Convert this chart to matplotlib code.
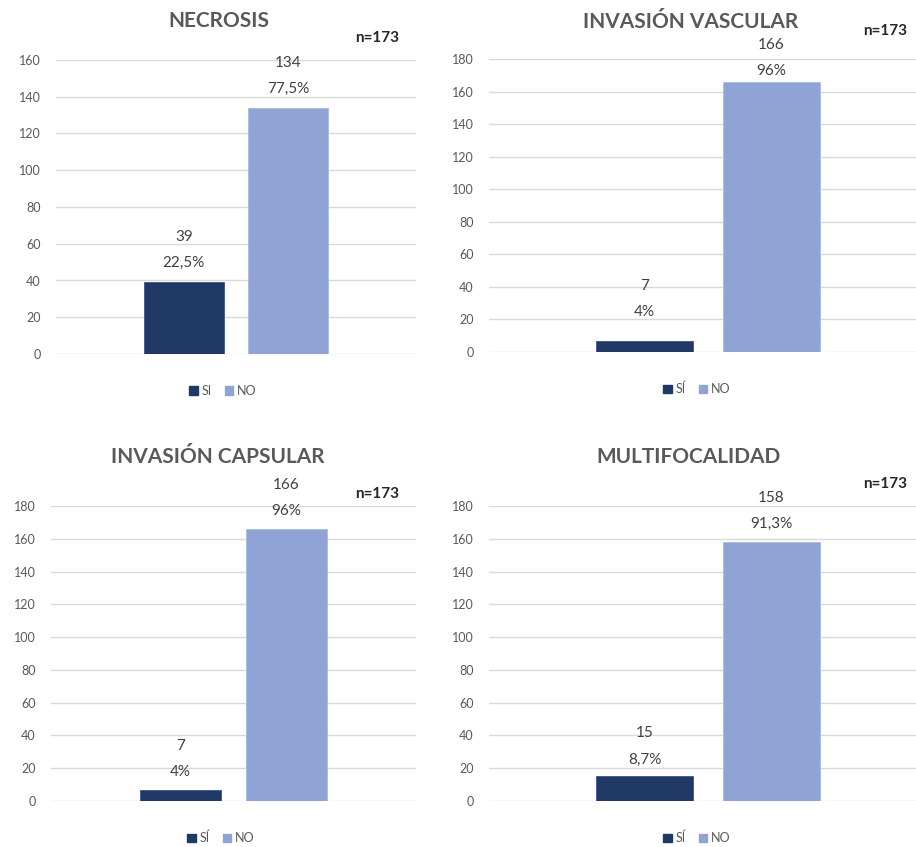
import matplotlib.pyplot as plt
from matplotlib.patches import Patch

plt.rcParams['font.family'] = ['Lato', 'DejaVu Sans']

# counts and percentages per variable
titles = ["NECROSIS", "INVASIÓN VASCULAR", "INVASIÓN CAPSULAR", "MULTIFOCALIDAD"]
si_counts = [39, 7, 7, 15]
no_counts = [134, 166, 166, 158]
si_pct = ["22,5%", "4%", "4%", "8,7%"]
no_pct = ["77,5%", "96%", "96%", "91,3%"]
y_max = [160, 180, 180, 180]
si_names = ["SI", "SÍ", "SÍ", "SÍ"]
n_total = 173

# layout, in pixels of a 916x847 canvas
W, H = 916, 847
ax_box = [(56, 416, 60, 354), (489, 927, 59, 352),
          (51, 416, 506, 801), (489, 927, 506, 801)]
title_pos = [(219, 21), (691, 22), (218, 457), (688, 457)]
n_pos = [(377, 38), (885, 31), (377, 494), (885, 484)]
legend_pos = [(223, 391), (697, 389), (221, 838), (697, 838)]
label_gap = [(19, 19), (29, 11), (18, 18), (17, 18)]

dark = '#203864'
light = '#8FA4D4'
grey = '#595959'
PX = 72 / 100  # points per pixel

fig = plt.figure(figsize=(W / 100, H / 100), dpi=100)

for i in range(4):
    l, r, t, b = ax_box[i]
    ax = fig.add_axes([l / W, 1 - b / H, (r - l) / W, (b - t) / H])
    ax.bar(-0.145, si_counts[i], width=0.223, color=dark, edgecolor='#3A5590', linewidth=0.6, zorder=3)
    ax.bar(0.145, no_counts[i], width=0.223, color=light, edgecolor='#A9BBE3', linewidth=0.6, zorder=3)
    ax.set_xlim(-0.5, 0.5)
    ax.set_ylim(0, y_max[i])
    ax.set_yticks(range(0, y_max[i] + 1, 20))
    ax.yaxis.grid(True, color='#D9D9D9', linewidth=1.0, zorder=0)
    ax.tick_params(axis='y', length=0, pad=11, labelsize=9, labelcolor=grey)
    ax.set_xticks([])
    for s in ax.spines.values():
        s.set_visible(False)

    # two-line value labels: count above percentage
    for x, h, pct, gap in [(-0.145, si_counts[i], si_pct[i], label_gap[i][0]),
                           (0.145, no_counts[i], no_pct[i], label_gap[i][1])]:
        ax.annotate(pct, (x, h), xytext=(0, gap * PX), textcoords='offset points',
                    ha='center', va='center', fontsize=11, color='#404040', annotation_clip=False)
        ax.annotate(str(h), (x, h), xytext=(0, (gap + 26) * PX), textcoords='offset points',
                    ha='center', va='center', fontsize=11, color='#404040', annotation_clip=False)

    tx, ty = title_pos[i]
    fig.text(tx / W, 1 - ty / H, titles[i], ha='center', va='center',
             fontsize=15, fontweight='bold', color=grey)
    nx, ny = n_pos[i]
    fig.text(nx / W, 1 - ny / H, f"n={n_total}", ha='center', va='center',
             fontsize=11, fontweight='bold', color='#262626')

    handles = [Patch(color=dark, label=si_names[i]), Patch(color=light, label="NO")]
    lx, ly = legend_pos[i]
    fig.legend(handles=handles, loc='center', bbox_to_anchor=(lx / W, 1 - ly / H),
               ncol=2, frameon=False, fontsize=9, labelcolor=grey,
               handlelength=0.65, handleheight=0.65, handletextpad=0.35,
               columnspacing=1.0, borderpad=0)

fig.savefig('out.png', dpi=100, facecolor='white')
